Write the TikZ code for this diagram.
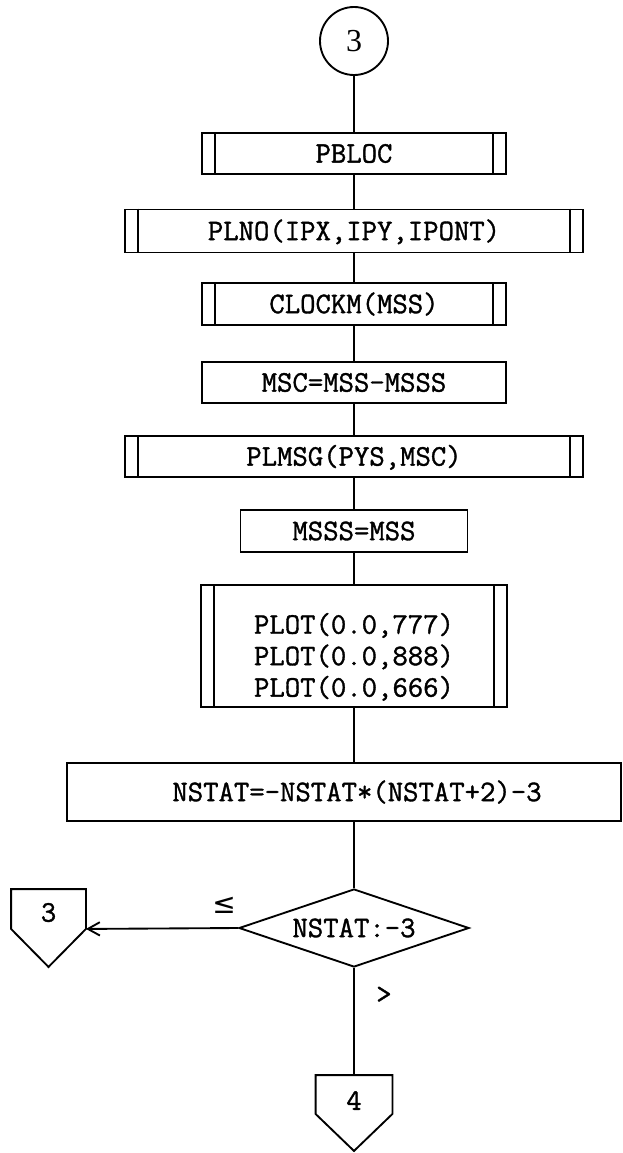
\documentclass[tikz,border=0pt]{standalone}
\usepackage{fontspec}
\newfontfamily\tw[FakeBold=1.2]{Latin Modern Mono}
\newfontfamily\serifd{Liberation Serif}
\newfontfamily\symd{DejaVu Sans}
\usetikzlibrary{shapes.geometric,arrows.meta}
\begin{document}
\begin{tikzpicture}[x=0.75pt,y=-0.75pt,line width=1.4pt,
  proc/.style={draw,rectangle,inner sep=0pt,font=\tw\fontsize{22.4}{23.6}\selectfont,text height=13.7pt,text depth=0pt},
  conn/.style={rectangle,inner sep=0pt,font=\tw\fontsize{22.4}{22.4}\selectfont,text depth=0pt},
  lbl/.style={inner sep=0pt}]
\useasboundingbox (0,0) rectangle (622,1153);

\node[draw,circle,inner sep=0pt,minimum size=51pt,font=\serifd\fontsize{24}{24}\selectfont] (circ) at (354,41) {3};
\node[proc,minimum width=228pt,minimum height=30.75pt] (pbloc) at (354,153.5) {PBLOC};
\node[proc,minimum width=343.5pt,minimum height=32.25pt] (plno) at (354,231) {PLNO(IPX,IPY,IPONT)};
\node[proc,minimum width=228pt,minimum height=31.5pt] (clockm) at (354,304) {CLOCKM(MSS)};
\node[proc,minimum width=228pt,minimum height=30.75pt] (msc) at (354,382.5) {MSC=MSS-MSSS};
\node[proc,minimum width=343.5pt,minimum height=30.75pt] (plmsg) at (354,456.5) {PLMSG(PYS,MSC)};
\node[proc,minimum width=170.25pt,minimum height=31.5pt] (msss) at (354,531) {MSSS=MSS};
\node[proc,minimum width=229.5pt,minimum height=91.5pt] (plot) at (354,646)
  {\raisebox{-8pt}{\begin{tabular}{@{}c@{}}PLOT(0.0,777)\\PLOT(0.0,888)\\PLOT(0.0,666)\end{tabular}}};
\node[proc,minimum width=415.5pt,minimum height=43.5pt] (nstat) at (344,792) {\hspace*{19.5pt}NSTAT=-NSTAT*(NSTAT+2)-3};
\node[proc,diamond,aspect=2.95,minimum width=172.5pt,minimum height=58.5pt] (dia) at (354,928) {NSTAT:-3};

\node[conn,minimum width=54.75pt,minimum height=28.5pt,text height=19pt] (c3) at (48.5,909) {3};
\node[conn,minimum width=56.25pt,minimum height=27.75pt,text height=23pt] (c4) at (354,1094.5) {4};
\draw (c3.north west) -- (c3.north east) -- (c3.south east) -- ([yshift=-28.5pt]c3.south) -- (c3.south west) -- cycle;
\draw (c4.north west) -- (c4.north east) -- (c4.south east) -- ([yshift=-27.75pt]c4.south) -- (c4.south west) -- cycle;

% subroutine side bars
\foreach \n in {pbloc,plno,clockm,plmsg,plot} {
  \draw ([xshift=10.5pt]\n.north west) -- ([xshift=10.5pt]\n.south west);
  \draw ([xshift=-10.5pt]\n.north east) -- ([xshift=-10.5pt]\n.south east);
}

% connectors
\draw (circ.south) -- (pbloc.north);
\draw (pbloc.south) -- (plno.north);
\draw (plno.south) -- (clockm.north);
\draw (clockm.south) -- (msc.north);
\draw (msc.south) -- (plmsg.north);
\draw (plmsg.south) -- (msss.north);
\draw (msss.south) -- (plot.north);
\draw (plot.south) -- (plot.south |- nstat.north);
\draw (nstat.south -| dia.north) -- (dia.north);
\draw[-{Straight Barb[length=9pt,width=10pt]}] (dia.west) -- (c3.south east);
\draw (dia.south) -- (c4.north);

\node[lbl,font=\symd\fontsize{21}{21}\selectfont] (le) at (224,905) {≤};
\node[lbl,font=\tw\fontsize{22.4}{22.4}\selectfont] (gt) at (384,995) {>};
\end{tikzpicture}
\end{document}
